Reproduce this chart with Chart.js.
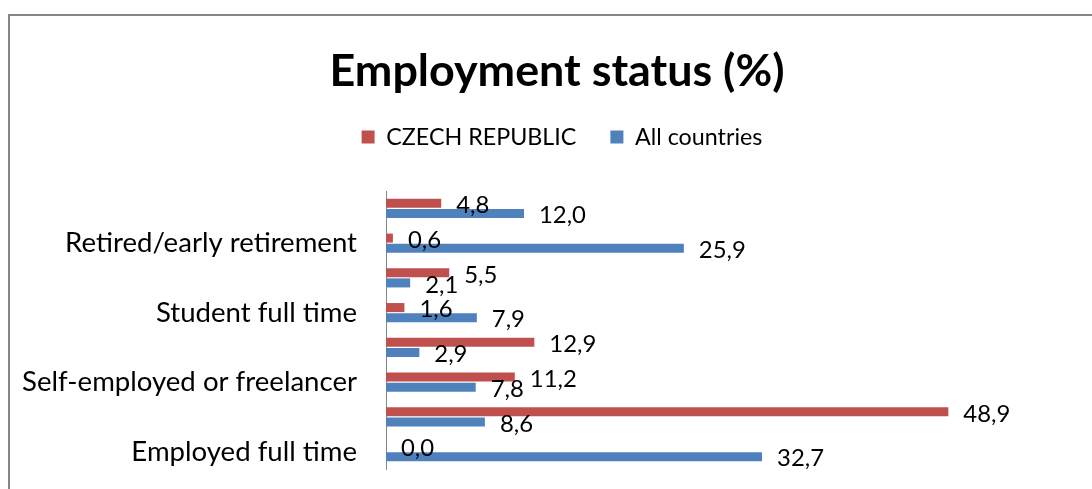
<!DOCTYPE html>
<html><head><meta charset="utf-8">
<script src="https://cdn.jsdelivr.net/npm/chart.js@4/dist/chart.umd.min.js"></script>
<style>
html,body{margin:0;padding:0;background:#fff;overflow:hidden;width:1092px;height:489px;}
#frame{position:absolute;left:8px;top:14px;width:1120px;height:520px;border-left:2px solid #868686;border-top:2px solid #868686;}
#wrap{position:absolute;left:10px;top:16px;width:1100px;height:500px;}
</style></head><body>
<div id="frame"></div>
<div id="wrap"><canvas id="c"></canvas></div>
<script>
// Categories listed bottom-to-top as in the original chart
const categories = ["Employed full time","Employed part time","Self-employed or freelancer","Unemployed","Student full time","Homemaker","Retired/early retirement","Other"];
const czechValues = [0.0, 48.9, 11.2, 12.9, 1.6, 5.5, 0.6, 4.8];
const allCountriesValues = [32.7, 8.6, 7.8, 2.9, 7.9, 2.1, 25.9, 12.0];
const seriesNames = ["CZECH REPUBLIC", "All countries"];
const chartTitle = "Employment status (%)";
const xMax = 60;

const FONT = 'Lato, "Open Sans", sans-serif';
function fitSize(text, target, weight){
  const c = document.createElement('canvas').getContext('2d');
  c.font = weight + ' 100px ' + FONT;
  return 100 * target / c.measureText(text).width;
}
const titleSize = fitSize(chartTitle, 455, 'bold');
const legendSize = (fitSize(seriesNames[0], 182, 'normal') + fitSize(seriesNames[1], 133, 'normal')) / 2;
const tickSize = fitSize("Retired/early retirement", 292, 'normal');
const labelSize = fitSize("48,9", 47, 'normal');

// layout targets (canvas coordinates)
const TITLE_CENTER = 56, LEGEND_CENTER = 121, PLOT_TOP = 175;
const TITLE_LH = 1.2, LEGEND_PAD = 34;
const titleBlock = titleSize * TITLE_LH;
const titlePadTop = TITLE_CENTER - titleBlock / 2;
const legendTop = LEGEND_CENTER - LEGEND_PAD - legendSize / 2;
const titlePadBottom = legendTop - titlePadTop - titleBlock;

const fmt = v => v.toFixed(1).replace('.', ',');

const valueLabels = {
  id: 'valueLabels',
  afterDatasetsDraw(chart){
    const ctx = chart.ctx;
    ctx.save();
    ctx.font = labelSize + 'px ' + FONT;
    ctx.fillStyle = '#000';
    ctx.textBaseline = 'middle';
    ctx.textAlign = 'left';
    chart.data.datasets.forEach((ds, di) => {
      chart.getDatasetMeta(di).data.forEach((bar, i) => {
        ctx.fillText(fmt(ds.data[i]), bar.x + 15, bar.y + 2);
      });
    });
    ctx.restore();
  }
};

const headerLayout = {
  id: 'headerLayout',
  beforeInit(chart){
    const orig = chart.legend.fit;
    chart.legend.fit = function(){
      orig.call(this);
      this.height = PLOT_TOP - legendTop;
    };
  },
  afterLayout(chart){
    // centre title and legend over the whole chart area (which extends past the right edge)
    const t = chart.titleBlock;
    if (t){ t.left = 0; t.right = 1094; t.width = 1094; }
    const l = chart.legend;
    if (l){ l.left = 0; l.right = 1104; l.width = 1104; }
  }
};

new Chart(document.getElementById('c'), {
  type: 'bar',
  data: {
    labels: categories,
    datasets: [
      {label: seriesNames[0], data: czechValues, backgroundColor: '#C0504D', categoryPercentage: 0.58, barPercentage: 0.9},
      {label: seriesNames[1], data: allCountriesValues, backgroundColor: '#4F81BD', categoryPercentage: 0.58, barPercentage: 0.9}
    ]
  },
  options: {
    indexAxis: 'y',
    responsive: true,
    maintainAspectRatio: false,
    animation: false,
    layout: {padding: {left: 0, right: 34, top: 0, bottom: 47}},
    plugins: {
      title: {display: true, text: chartTitle, color: '#000',
        font: {family: FONT, size: titleSize, weight: 'bold', lineHeight: TITLE_LH},
        padding: {top: titlePadTop, bottom: titlePadBottom}},
      legend: {display: true, position: 'top',
        labels: {boxWidth: 13, boxHeight: 13, color: '#000', padding: LEGEND_PAD,
          font: {family: FONT, size: legendSize}}},
      tooltip: {enabled: false}
    },
    scales: {
      x: {display: false, min: 0, max: xMax},
      y: {
        reverse: true,
        grid: {display: false, drawTicks: false},
        border: {display: true, color: '#868686', width: 1},
        ticks: {autoSkip: false, padding: 29, color: '#000',
          font: {family: FONT, size: tickSize},
          callback: function(v, i){ return i % 2 === 0 ? this.getLabelForValue(v) : ''; }},
        afterFit: s => { s.width = 376; }
      }
    }
  },
  plugins: [valueLabels, headerLayout]
});
</script>
</body></html>
